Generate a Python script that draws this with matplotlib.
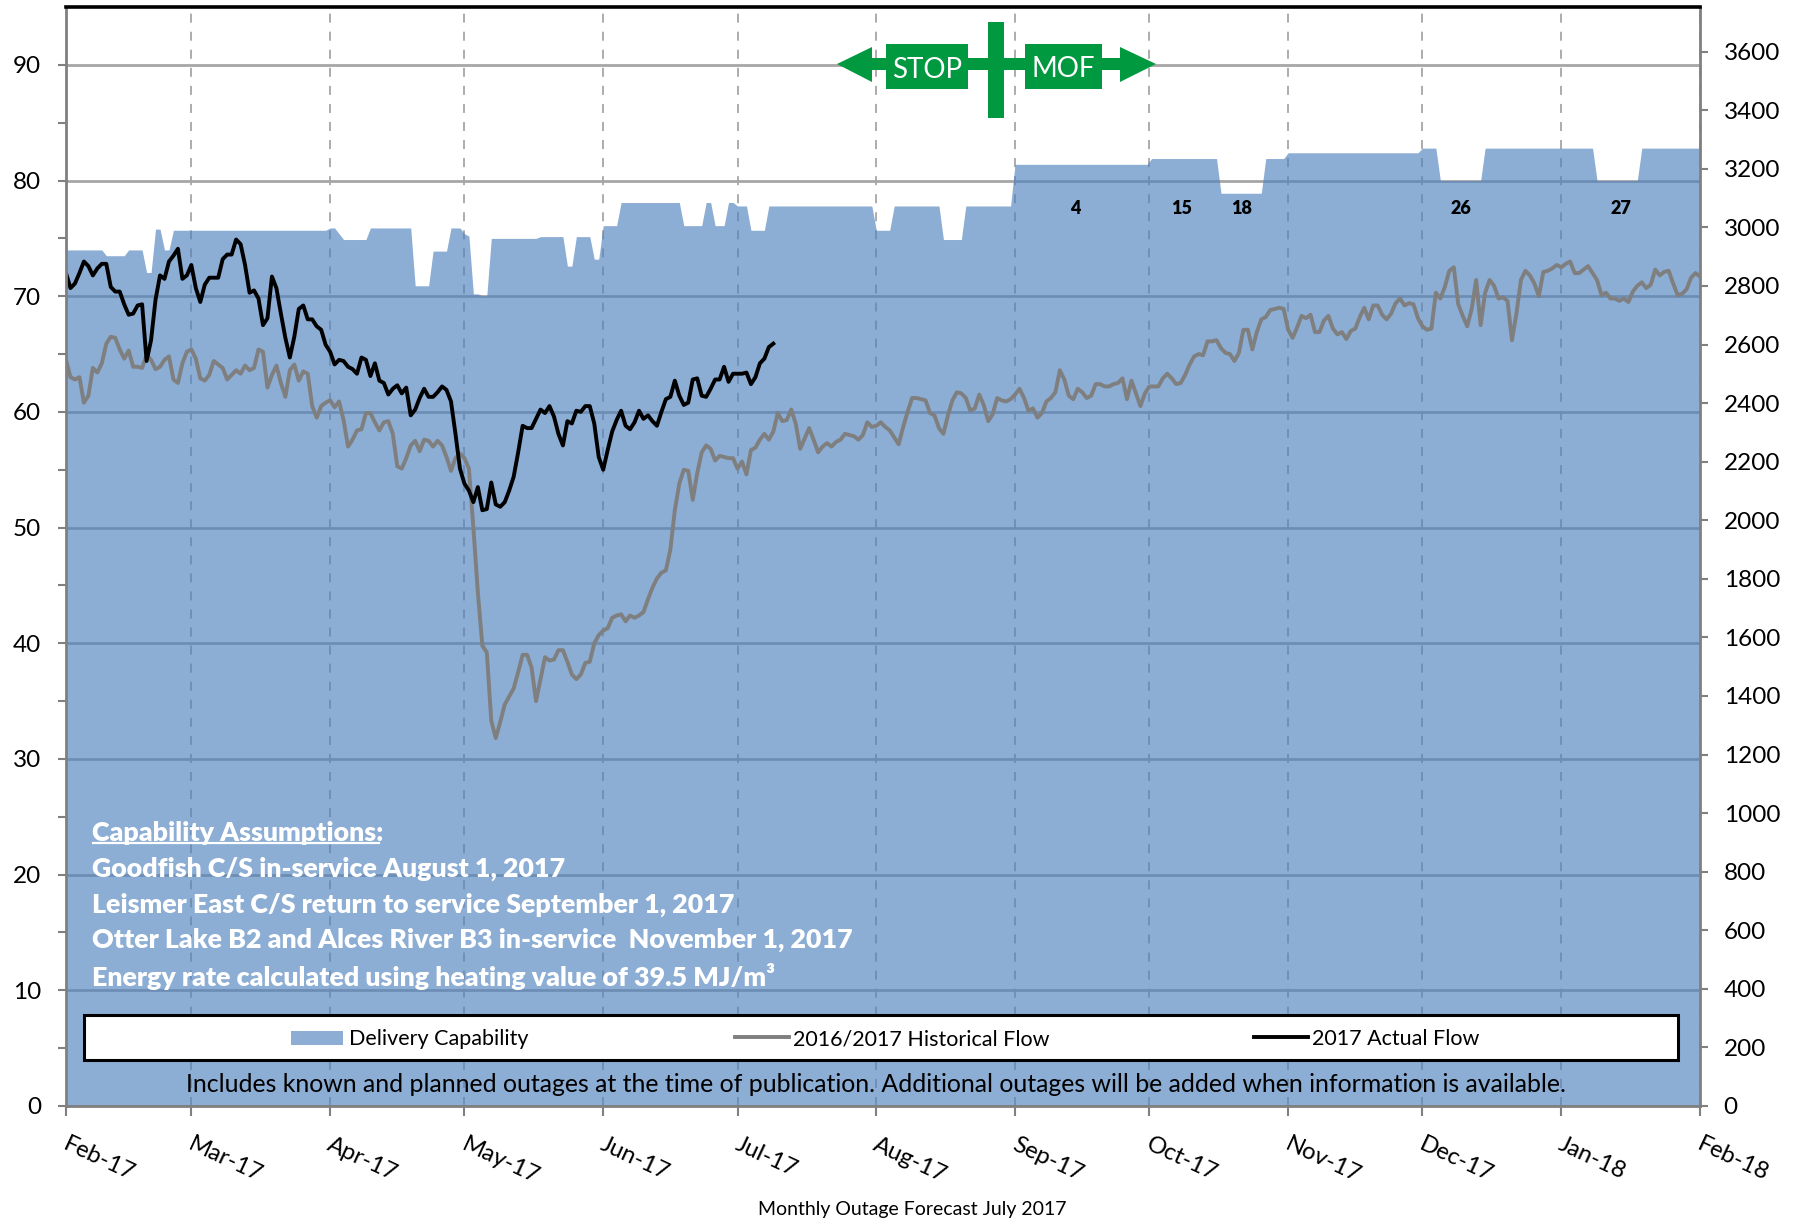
import matplotlib
matplotlib.use("Agg")
import matplotlib.pyplot as plt
import numpy as np
from matplotlib.lines import Line2D
from matplotlib.patches import Polygon, Rectangle
from matplotlib.transforms import ScaledTranslation

W, H = 1801, 1222

month_days = [0, 28, 59, 89, 120, 150, 181, 212, 242, 273, 303, 334, 365]
month_labels = ["Feb-17", "Mar-17", "Apr-17", "May-17", "Jun-17", "Jul-17", "Aug-17",
                "Sep-17", "Oct-17", "Nov-17", "Dec-17", "Jan-18", "Feb-18"]

# delivery capability, breakpoints (day, 10^6 m3/d)
cap_days = [0, 8, 9, 13, 14, 17, 18, 19, 20, 21, 22, 23, 24, 58, 59, 60, 62, 67, 68, 77,
            78, 81, 82, 85, 86, 88, 89, 90, 91, 92, 93, 94, 95, 105, 106, 111, 112, 113, 114, 117,
            118, 119, 120, 123, 124, 137, 138, 142, 143, 144, 145, 147, 148, 149, 150, 152, 153, 156, 157, 180,
            181, 184, 185, 195, 196, 200, 201, 211, 212, 241.5, 242.5, 257, 258, 267, 268, 272, 273, 302, 303, 306,
            307, 316, 317, 341, 342, 351, 352, 365]
cap_vals = [74.0, 74.0, 73.5, 73.5, 74.0, 74.0, 72.05, 72.05, 75.8, 75.8, 74.0, 74.0, 75.7, 75.7, 75.9, 75.9, 74.9, 74.9, 75.9, 75.9,
            70.9, 70.9, 73.9, 73.9, 75.9, 75.9, 75.4, 75.2, 70.2, 70.2, 70.05, 70.05, 75.0, 75.0, 75.15, 75.15, 72.6, 72.6, 75.15, 75.15,
            73.2, 73.2, 76.1, 76.1, 78.1, 78.1, 76.1, 76.1, 78.1, 78.1, 76.1, 76.1, 78.1, 78.1, 77.8, 77.8, 75.7, 75.7, 77.8, 77.8,
            75.7, 75.7, 77.8, 77.8, 74.9, 74.9, 77.8, 77.8, 81.4, 81.4, 81.9, 81.9, 78.9, 78.9, 81.9, 81.9, 82.4, 82.4, 82.8, 82.8,
            80.0, 80.0, 82.8, 82.8, 80.0, 80.0, 82.8, 82.8]

# daily values, first one is Feb 1
hist_flow = [64.5, 63.0, 62.8, 63.0, 60.8, 61.4, 63.8, 63.4, 64.2, 65.9,
             66.5, 66.4, 65.4, 64.6, 65.3, 63.9, 63.9, 63.8, 64.9, 64.5,
             63.7, 63.9, 64.5, 64.8, 62.8, 62.5, 64.2, 65.2, 65.4, 64.6,
             62.9, 62.7, 63.2, 64.4, 64.1, 63.8, 62.8, 63.2, 63.6, 63.3,
             64.0, 63.6, 63.8, 65.4, 65.2, 62.1, 63.2, 64.0, 62.5, 61.3,
             63.6, 64.1, 62.7, 63.5, 63.3, 60.5, 59.5, 60.5, 60.8, 61.0,
             60.4, 60.9, 59.3, 57.0, 57.6, 58.4, 58.5, 59.9, 59.9, 59.1,
             58.4, 59.1, 59.2, 58.1, 55.3, 55.1, 56.0, 57.1, 57.5, 56.6,
             57.6, 57.5, 57.0, 57.5, 57.1, 56.1, 54.9, 56.0, 56.4, 56.0,
             55.1, 50.0, 44.4, 39.8, 39.2, 33.3, 31.8, 33.2, 34.7, 35.4,
             36.1, 37.5, 39.0, 39.0, 37.9, 35.0, 36.9, 38.8, 38.5, 38.6,
             39.4, 39.4, 38.4, 37.3, 36.9, 37.3, 38.3, 38.4, 40.0, 40.7,
             41.1, 41.3, 42.2, 42.4, 42.5, 41.9, 42.4, 42.2, 42.4, 42.7,
             43.8, 44.8, 45.6, 46.1, 46.3, 48.1, 51.5, 53.8, 55.0, 54.9,
             52.4, 54.7, 56.5, 57.1, 56.8, 55.8, 56.2, 56.1, 56.0, 56.0,
             55.1, 55.7, 54.6, 56.7, 56.9, 57.6, 58.1, 57.6, 58.3, 59.9,
             59.2, 59.3, 60.2, 59.0, 56.8, 57.7, 58.6, 57.6, 56.5, 57.0,
             57.3, 57.0, 57.4, 57.6, 58.1, 58.0, 57.9, 57.6, 58.0, 59.1,
             58.7, 58.8, 59.1, 58.7, 58.4, 57.8, 57.2, 58.7, 60.0, 61.2,
             61.2, 61.1, 61.0, 59.9, 59.7, 58.6, 58.1, 59.7, 61.0, 61.7,
             61.6, 61.2, 60.1, 60.3, 61.5, 60.6, 59.2, 59.8, 61.2, 61.0,
             60.9, 61.1, 61.5, 62.0, 61.2, 60.1, 60.3, 59.5, 59.9, 60.9,
             61.2, 61.7, 63.6, 62.8, 61.4, 61.1, 62.0, 61.7, 61.2, 61.4,
             62.4, 62.4, 62.2, 62.2, 62.4, 62.5, 62.9, 61.1, 62.7, 61.6,
             60.5, 61.6, 62.2, 62.2, 62.2, 62.9, 63.3, 62.9, 62.4, 62.5,
             63.2, 64.1, 64.8, 65.0, 64.9, 66.1, 66.1, 66.2, 65.5, 65.1,
             65.0, 64.4, 65.1, 67.1, 67.1, 65.4, 66.9, 68.0, 68.2, 68.8,
             68.9, 69.0, 68.9, 67.1, 66.4, 67.3, 68.3, 68.1, 68.4, 66.9,
             66.9, 67.9, 68.3, 67.2, 66.7, 66.9, 66.3, 67.0, 67.2, 68.2,
             69.0, 68.0, 69.2, 69.2, 68.4, 68.0, 68.5, 69.4, 69.8, 69.2,
             69.4, 69.3, 68.1, 67.4, 67.1, 67.2, 70.3, 69.8, 70.8, 72.2,
             72.5, 69.3, 68.3, 67.4, 68.9, 71.4, 67.5, 70.3, 71.4, 70.9,
             69.8, 69.9, 69.6, 66.2, 68.5, 71.4, 72.2, 71.8, 71.1, 70.0,
             72.1, 72.2, 72.4, 72.7, 72.5, 72.8, 73.0, 72.0, 72.0, 72.3,
             72.6, 72.0, 71.4, 70.1, 70.3, 69.8, 69.8, 69.6, 69.8, 69.5,
             70.4, 70.9, 71.2, 70.7, 71.0, 72.3, 71.8, 72.1, 72.2, 71.1,
             70.1, 70.2, 70.6, 71.6, 72.0, 71.7]

actual_flow = [72.0, 70.7, 71.1, 72.0, 73.0, 72.6, 71.8, 72.4, 72.8, 72.8,
               70.8, 70.4, 70.4, 69.3, 68.4, 68.5, 69.2, 69.3, 64.4, 66.2,
               69.7, 71.8, 71.5, 73.0, 73.5, 74.1, 71.5, 71.8, 72.7, 70.7,
               69.5, 71.0, 71.6, 71.6, 71.6, 73.2, 73.6, 73.6, 74.9, 74.5,
               72.7, 70.3, 70.5, 69.8, 67.5, 68.1, 71.7, 70.7, 68.5, 66.4,
               64.7, 66.5, 68.9, 69.2, 68.0, 68.0, 67.4, 67.1, 65.8, 65.2,
               64.1, 64.5, 64.4, 63.9, 63.7, 63.3, 64.7, 64.5, 63.1, 64.2,
               62.7, 62.5, 61.5, 62.0, 62.3, 61.6, 62.1, 59.7, 60.2, 61.2,
               62.0, 61.3, 61.3, 61.7, 62.2, 61.9, 60.9, 58.1, 55.1, 53.8,
               53.2, 52.2, 53.5, 51.5, 51.6, 53.9, 52.0, 51.8, 52.2, 53.2,
               54.4, 56.5, 58.8, 58.6, 58.6, 59.4, 60.2, 59.9, 60.5, 59.6,
               58.1, 57.1, 59.2, 59.0, 60.1, 60.0, 60.5, 60.5, 59.0, 56.1,
               55.0, 56.7, 58.3, 59.3, 60.1, 58.8, 58.5, 59.1, 60.1, 59.4,
               59.7, 59.2, 58.8, 60.0, 61.1, 61.3, 62.7, 61.4, 60.6, 60.8,
               62.8, 62.9, 61.4, 61.3, 62.0, 62.8, 62.8, 63.9, 62.6, 63.3,
               63.3, 63.3, 63.4, 62.4, 63.0, 64.2, 64.6, 65.6, 65.9]

outage_labels = ["4", "15", "18", "26", "27"]
outage_days = [225.5, 249.3, 262.6, 311.5, 347.3]
outage_y = 77.6

notes = ["Goodfish C/S in-service August 1, 2017",
         "Leismer East C/S return to service September 1, 2017",
         "Otter Lake B2 and Alces River B3 in-service  November 1, 2017",
         "Energy rate calculated using heating value of 39.5 MJ/m\u00b3"]
notes_y = [869, 905, 940, 976]


def fx(x):
    return x / W


def fy(y):
    return 1 - y / H


def poly(fig, pts, color):
    fig.add_artist(Polygon([(fx(x), fy(y)) for x, y in pts], closed=True, facecolor=color,
                           edgecolor="none", transform=fig.transFigure, zorder=5))


plt.rcParams['font.family'] = ['Lato', 'DejaVu Sans']
GREEN = "#00993F"
GRID = "#A6A6A6"
SPINE = "#808080"

fig = plt.figure(figsize=(W / 100, H / 100), dpi=100)
ax = fig.add_axes([fx(66), fy(1106), fx(1700 - 66), (1106 - 7) / H])
ax.set_xlim(0, 365)
ax.set_ylim(0, 95)

ax.set_yticks(np.arange(0, 91, 10))
ax.set_yticks(np.arange(5, 95, 10), minor=True)
ax.set_xticks(month_days)
ax.set_xticklabels(month_labels, rotation=-25, ha="left", va="top", rotation_mode="anchor")
ax.grid(axis="y", color=GRID, linewidth=2)
ax.grid(axis="x", color=GRID, linewidth=1.3, linestyle=(0, (5, 5)))
ax.set_axisbelow(True)

ax.fill_between(cap_days, cap_vals, 0, color="#4F81BD", alpha=0.65, linewidth=0, zorder=1.5)
ax.plot(np.arange(len(hist_flow)), hist_flow, color="#7F7F7F", linewidth=2.8, zorder=2)
ax.plot(np.arange(len(actual_flow)), actual_flow, color="black", linewidth=2.8, zorder=2.1)

ax.tick_params(axis="y", which="major", length=6, width=1.5, color=SPINE, labelsize=17.5, pad=12)
ax.tick_params(axis="y", which="minor", length=6, width=1.5, color=SPINE)
ax.tick_params(axis="x", length=7, width=1.5, color=SPINE, labelsize=17.2, pad=13)
shift = ScaledTranslation(3 / 100, 0, fig.dpi_scale_trans)
for lab in ax.get_xticklabels():
    lab.set_transform(lab.get_transform() + shift)

for s in ["left", "right", "bottom"]:
    ax.spines[s].set_color(SPINE)
    ax.spines[s].set_linewidth(2)
ax.spines["top"].set_color("black")
ax.spines["top"].set_linewidth(2.6)

ax2 = ax.twinx()
ax2.set_ylim(0, 95 * 39.5)
ax2.set_yticks(np.arange(0, 3601, 200))
ax2.tick_params(axis="y", length=6, width=1.5, color=SPINE, labelsize=17.5, pad=11)
for s in ax2.spines.values():
    s.set_visible(False)

for lab, d in zip(outage_labels, outage_days):
    ax.text(d, outage_y, lab, ha="center", va="center", fontsize=13, fontweight="heavy", color="black")

# notes over the area
fig.text(fx(92), fy(833), "Capability Assumptions:", color="white", fontsize=19.3, fontweight="heavy", va="center")
fig.add_artist(Line2D([fx(93), fx(379)], [fy(843), fy(843)], color="white", linewidth=1.6))
for line, y in zip(notes, notes_y):
    fig.text(fx(92), fy(y), line, color="white", fontsize=19.3, fontweight="heavy", va="center")

# legend box
fig.add_artist(Rectangle((fx(84), fy(1060)), fx(1678 - 84), (1060 - 1015) / H, facecolor="white",
                         edgecolor="black", linewidth=2.2, transform=fig.transFigure, zorder=4))
fig.add_artist(Rectangle((fx(291), fy(1045)), fx(343 - 291), (1045 - 1031) / H, facecolor="#8DADD4",
                         edgecolor="none", transform=fig.transFigure, zorder=5))
fig.add_artist(Line2D([fx(735), fx(789)], [fy(1037), fy(1037)], color="#7F7F7F", linewidth=2.8, zorder=5))
fig.add_artist(Line2D([fx(1254), fx(1308)], [fy(1037), fy(1037)], color="black", linewidth=2.8, zorder=5))
for x, label in [(349, "Delivery Capability"), (793, "2016/2017 Historical Flow"), (1312, "2017 Actual Flow")]:
    fig.text(fx(x), fy(1039), label, fontsize=15.5, va="center", zorder=6)

fig.text(fx(876), fy(1085), "Includes known and planned outages at the time of publication. "
         "Additional outages will be added when information is available.",
         fontsize=17.9, ha="center", va="center")
fig.text(fx(912), fy(1209), "Monthly Outage Forecast July 2017", fontsize=14, ha="center", va="center")

# STOP / MOF sign
poly(fig, [(837, 64), (872, 47), (872, 58), (1120, 58), (1120, 47), (1156, 64), (1120, 82), (1120, 70), (872, 70), (872, 82)], GREEN)
poly(fig, [(988, 22), (1004, 22), (1004, 118), (988, 118)], GREEN)
poly(fig, [(886, 44), (968, 44), (968, 89), (886, 89)], GREEN)
poly(fig, [(1025, 44), (1102, 44), (1102, 89), (1025, 89)], GREEN)
fig.text(fx(927), fy(70), "STOP", color="white", fontsize=20, ha="center", va="center", zorder=6)
fig.text(fx(1063), fy(69), "MOF", color="white", fontsize=20, ha="center", va="center", zorder=6)

fig.savefig("out.png", dpi=100)
